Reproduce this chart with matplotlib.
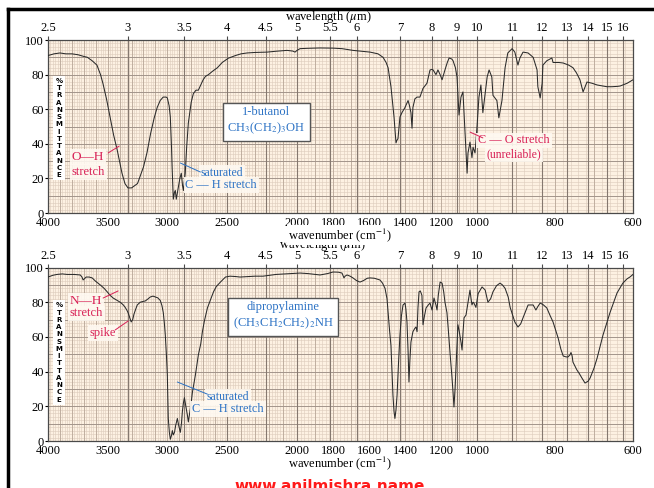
import numpy as np
import matplotlib.pyplot as plt

plt.rcParams['font.family'] = ['Liberation Serif', 'DejaVu Serif']
plt.rcParams['mathtext.fontset'] = 'stix'

# 1-butanol spectrum: wavenumber (cm-1), %T
but_wn = [4000, 3950, 3900, 3850, 3800, 3750, 3700, 3670, 3630, 3590, 3560, 3540, 3510, 3480, 3450,
          3420, 3380, 3355, 3330, 3300, 3250, 3200, 3170, 3140, 3110, 3085, 3060, 3035, 3010, 3000,
          2985, 2975, 2965, 2960, 2950, 2940, 2933, 2925, 2915, 2908, 2895, 2883, 2873, 2865, 2858,
          2850, 2838, 2824, 2800, 2782, 2760, 2740, 2720, 2700, 2680, 2655, 2620, 2580, 2540, 2490,
          2440, 2400, 2357, 2300, 2214, 2150, 2071, 2030, 2014, 2000, 1983, 1940, 1872, 1800, 1750,
          1689, 1640, 1594, 1550, 1522, 1505, 1494, 1478, 1461, 1450, 1445, 1439, 1433, 1428, 1417,
          1400, 1383, 1375, 1367, 1361, 1356, 1345, 1333, 1317, 1300, 1278, 1261, 1250, 1244, 1228,
          1217, 1205, 1194, 1178, 1165, 1155, 1140, 1133, 1120, 1111, 1100, 1089, 1078, 1072, 1061,
          1055, 1050, 1039, 1028, 1022, 1011, 1000, 995, 990, 985, 982, 974, 969, 962, 959,
          949, 944, 936, 928, 921, 910, 903, 895, 890, 882, 869, 856, 846, 844, 838,
          833, 831, 821, 808, 805, 790, 779, 765, 754, 745, 736, 728, 718, 705, 692,
          680, 667, 654, 640, 633, 615, 600]
but_t = [91, 92, 92.5, 92, 92, 91.5, 90.5, 90, 88, 85.5, 80, 75, 66, 55.5, 45,
         36.4, 23, 17, 14.5, 14.5, 17, 26.6, 35, 46, 55, 61, 65, 67, 67, 66.5,
         62, 55.5, 38, 26.6, 8, 12, 13, 8, 12, 15, 20, 23, 16, 13, 18,
         23, 38, 52, 64, 69, 71, 71, 74, 77, 79, 80, 82, 84, 87, 89.5,
         91, 92, 92.5, 92.8, 93, 93.5, 94, 93.6, 93, 94, 95, 95.2, 95.4, 95.3, 95,
         94, 93.5, 93, 92, 90, 87, 84, 73, 55.5, 40.5, 42, 43, 50, 55.5, 58,
         61, 65, 62, 58, 49, 61, 66, 67, 67, 72, 75, 82.7, 83, 82.7, 80,
         82.7, 80, 77, 82.7, 87, 89.6, 89, 88, 84, 78.6, 56.6, 67, 70, 58, 36.4,
         23, 34.7, 41, 32, 38, 34.7, 49.7, 67, 74, 58, 63.6, 78.6, 82.7, 78.6, 68,
         65, 55, 65, 84, 92.5, 95, 93, 85.5, 89.6, 93, 92.5, 90, 82.7, 73, 66.5,
         75, 85.5, 88, 89.6, 87, 87, 86.7, 85.5, 84, 81, 77, 70, 75.7, 75, 74,
         73.5, 73, 73, 73.2, 73.4, 75, 77]

# dipropylamine spectrum: wavenumber (cm-1), %T
dpa_wn = [4000, 3960, 3925, 3880, 3840, 3780, 3730, 3715, 3706, 3695, 3680, 3655, 3630, 3600, 3563,
          3530, 3504, 3480, 3454, 3420, 3395, 3370, 3353, 3340, 3328, 3315, 3303, 3290, 3280, 3265,
          3252, 3227, 3200, 3185, 3160, 3143, 3120, 3100, 3080, 3059, 3045, 3034, 3025, 3017, 3008,
          3000, 2992, 2983, 2975, 2966, 2958, 2950, 2940, 2930, 2916, 2905, 2891, 2882, 2874, 2865,
          2857, 2845, 2832, 2824, 2815, 2800, 2790, 2765, 2740, 2720, 2706, 2690, 2664, 2640, 2613,
          2590, 2555, 2513, 2479, 2440, 2407, 2350, 2300, 2243, 2150, 2050, 1983, 1940, 1900, 1872,
          1830, 1800, 1770, 1750, 1745, 1739, 1733, 1722, 1705, 1689, 1670, 1650, 1630, 1610, 1594,
          1570, 1539, 1525, 1511, 1500, 1494, 1486, 1478, 1472, 1467, 1461, 1456, 1450, 1444, 1436,
          1428, 1420, 1411, 1400, 1395, 1389, 1383, 1378, 1373, 1367, 1356, 1345, 1339, 1333, 1328,
          1322, 1315, 1306, 1300, 1292, 1283, 1270, 1261, 1250, 1239, 1228, 1222, 1215, 1205, 1194,
          1185, 1178, 1167, 1160, 1150, 1140, 1133, 1128, 1122, 1117, 1111, 1106, 1100, 1089, 1083,
          1078, 1072, 1061, 1050, 1039, 1033, 1028, 1022, 1017, 1010, 1006, 1000, 997, 987, 979,
          972, 965, 959, 950, 941, 935, 928, 920, 915, 903, 895, 888, 882, 869, 856,
          849, 844, 838, 830, 821, 812, 805, 792, 785, 779, 772, 767, 762, 759, 756,
          754, 744, 738, 731, 723, 715, 710, 700, 692, 677, 659, 641, 626, 615, 608, 600]
dpa_t = [94.5, 95.5, 96, 96.3, 96, 96, 95.7, 94.5, 92.8, 93.5, 94.5, 94.5, 94, 92, 90,
         88, 86, 84, 82.4, 81, 80, 78.5, 77, 75.5, 73.8, 71, 68.6, 70, 73, 76,
         78.4, 80, 80.5, 80.7, 82, 83, 83.5, 83, 82.5, 81, 78, 74, 68, 61, 50,
         38, 13, 5, 1, 3, 6, 3.5, 5, 9, 13, 9, 5, 10, 17, 22,
         25, 20, 15, 11, 15, 22, 28, 38, 49.6, 56, 63, 69, 76.7, 81, 86,
         89, 91.6, 94.5, 95, 94.8, 94.5, 94.8, 95, 95, 96, 96.5, 96.8, 96.5, 96, 95.7,
         96.5, 97.4, 97.3, 96.8, 95.5, 94, 95, 95.7, 95, 94, 92.5, 91.6, 92.5, 93.8, 94,
         93.8, 92.8, 91, 88, 82, 74, 64, 55, 40, 26.5, 17, 13, 18, 26.5, 45,
         61, 72, 78.4, 79.5, 76, 68.6, 52, 34, 46, 57, 63, 65, 65.7, 63, 76.7,
         86, 86.5, 84, 67, 72, 76.7, 78.5, 79.5, 75.5, 82.4, 78.4, 75.5, 84, 91.6, 91,
         86, 80, 74, 65, 51, 38, 28, 19.6, 30, 42, 56, 67, 64, 57, 52.4,
         62, 71, 72.6, 80, 87, 82, 78.4, 80, 79.5, 78, 77, 81, 85, 88.8, 87,
         80, 82, 86, 89.5, 91, 90, 88, 83, 77, 68.6, 65.7, 67.5, 71, 78.4, 78.4,
         75.5, 77.5, 79.5, 78.5, 76.7, 72, 68.6, 59.4, 53, 49, 48.5, 48.4, 49.5, 51, 49,
         45.5, 41, 39, 36.3, 33.4, 34.5, 36.3, 42, 47.8, 61, 74, 85.3, 91, 93.5, 94.5, 96]

wn_ticks = [4000, 3500, 3000, 2500, 2000, 1800, 1600, 1400, 1200, 1000, 800, 600]
mu_ticks = [2.5, 3, 3.5, 4, 4.5, 5, 5.5, 6, 7, 8, 9, 10, 11, 12, 13, 14, 15, 16]
mu_labels = ['2.5', '3', '3.5', '4', '4.5', '5', '5.5', '6', '7', '8', '9', '10',
             '11', '12', '13', '14', '15', '16']
t_ticks = [0, 20, 40, 60, 80, 100]

# chart paper: wavenumber axis is compressed differently in each range
brk_wn = [600, 1000, 2000, 2500, 4000]
brk_pos = [633, 477, 297, 227, 48]


def fwd(w):
    return np.interp(w, brk_wn, brk_pos)


def inv(p):
    return np.interp(p, brk_pos[::-1], brk_wn[::-1])


RED = '#d81f55'
BLUE = '#2c72c4'
PAPER = '#fdf1e2'
W, H = 654, 488
FS = 8.5

fig = plt.figure(figsize=(W / 100, H / 100), dpi=100)


def setup(ax, lab_y):
    ax.set_facecolor(PAPER)
    ax.set_xscale('function', functions=(fwd, inv))
    fine = np.arange(600, 4001, 20)
    ax.vlines(fine, 0, 100, colors='#dccbbb', lw=0.4, zorder=0.5)
    ax.vlines(np.arange(600, 4001, 100), 0, 100, colors='#b9a899', lw=0.6, zorder=0.6)
    ax.vlines(10000 / np.array(mu_ticks), 0, 100, colors='#85786f', lw=0.8, zorder=0.7)
    ax.hlines(np.arange(0, 101, 2), 4000, 600, colors='#dccbbb', lw=0.4, zorder=0.5)
    ax.hlines(np.arange(0, 101, 10), 4000, 600, colors='#a3958b', lw=0.7, zorder=0.6)
    ax.set_xlim(600, 4000)
    ax.set_ylim(0, 100)
    ax.set_xticks(wn_ticks)
    ax.set_xticklabels([str(t) for t in wn_ticks])
    ax.set_yticks(t_ticks)
    ax.tick_params(axis='x', length=0, pad=3, labelsize=FS + 0.5)
    ax.tick_params(axis='y', length=2, pad=1, labelsize=FS + 0.5)
    ax.minorticks_off()
    for s in ax.spines.values():
        s.set_color('#4a4a4a')
        s.set_linewidth(0.9)
    top = ax.twiny()
    top.set_xscale('function', functions=(fwd, inv))
    top.set_xlim(600, 4000)
    top.set_xticks([10000 / m for m in mu_ticks])
    top.set_xticklabels(mu_labels)
    top.minorticks_off()
    top.tick_params(axis='x', length=3, pad=1, labelsize=FS + 0.5, color='#4a4a4a')
    for s in top.spines.values():
        s.set_visible(False)
    # %TRANSMITTANCE stacked label
    ax.text(0.019, lab_y, '%\nT\nR\nA\nN\nS\nM\nI\nT\nT\nA\nN\nC\nE', transform=ax.transAxes,
            ha='center', va='center', fontsize=5.0, fontweight='bold', family='DejaVu Sans',
            linespacing=1.25, zorder=5,
            bbox=dict(boxstyle='square,pad=0.3', fc='white', ec='none'))


def note(ax, txt, xy, color, size=FS):
    ax.text(xy[0], xy[1], txt, ha='center', va='center', color=color, fontsize=size,
            linespacing=1.1, zorder=5,
            bbox=dict(boxstyle='square,pad=0.15', fc='#fff9f1', ec='none', alpha=0.9))


def leader(ax, p0, p1, color):
    ax.annotate('', xy=p1, xytext=p0,
                arrowprops=dict(arrowstyle='-', color=color, lw=0.7, shrinkA=0, shrinkB=0),
                zorder=5)


ax1 = fig.add_axes([48 / W, 1 - 213 / H, 585 / W, 173 / H])
setup(ax1, 0.491)
ax1.plot(but_wn, but_t, color='#2a2a2a', lw=0.75, zorder=3)

ax2 = fig.add_axes([48 / W, 1 - 441 / H, 585 / W, 173.5 / H])
setup(ax2, 0.51)
ax2.plot(dpa_wn, dpa_t, color='#2a2a2a', lw=0.75, zorder=3)

# annotations, 1-butanol
note(ax1, 'O—H', (3664, 32.4), RED, 9.5)
note(ax1, 'stretch', (3664, 23.7), RED, FS + 0.5)
leader(ax1, (3496, 34.7), (3403, 38.7), RED)
ax1.text(2221, 53.2, '1-butanol\nCH$_3$(CH$_2$)$_3$OH', ha='center', va='center', color=BLUE,
         fontsize=9, linespacing=1.3, zorder=5,
         bbox=dict(boxstyle='square,pad=0.35', fc='white', ec='#555555', lw=1.0))
note(ax1, 'saturated', (2540, 23.4), BLUE, FS)
note(ax1, 'C — H stretch', (2548, 16.2), BLUE, FS + 0.3)
leader(ax1, (2891, 28.9), (2723, 23.7), BLUE)
note(ax1, 'C — O stretch', (905, 42), RED, FS + 0.3)
note(ax1, '(unreliable)', (905, 34), RED, FS)
leader(ax1, (1039, 46.8), (985, 43.4), RED)

# annotations, dipropylamine
note(ax2, 'N—H', (3681, 80.7), RED, 9.5)
note(ax2, 'stretch', (3681, 73.5), RED, FS + 0.5)
leader(ax2, (3538, 82.4), (3412, 86.5), RED)
note(ax2, 'spike', (3538, 62.2), RED, FS + 0.5)
leader(ax2, (3437, 64), (3328, 69.2), RED)
ax2.text(2100, 72, 'dipropylamine\n(CH$_3$CH$_2$CH$_2$)$_2$NH', ha='center', va='center',
         color=BLUE, fontsize=9, linespacing=1.3, zorder=5,
         bbox=dict(boxstyle='square,pad=0.35', fc='white', ec='#555555', lw=1.0))
note(ax2, 'saturated', (2493, 25.3), BLUE, FS)
note(ax2, 'C — H stretch', (2493, 18.6), BLUE, FS + 0.3)
leader(ax2, (2916, 34), (2664, 27), BLUE)

# axis titles
fig.text(328 / W, 1 - 17 / H, r'wavelength ($\mu$m)', ha='center', va='center', fontsize=FS + 0.5)
fig.text(322 / W, 1 - 245 / H, r'wavelength ($\mu$m)', ha='center', va='center', fontsize=FS + 0.5)
fig.text(340 / W, 1 - 235 / H, r'wavenumber (cm$^{-1}$)', ha='center', va='center',
         fontsize=FS + 0.5, bbox=dict(boxstyle='square,pad=0.1', fc='white', ec='none'), zorder=10)
fig.text(340 / W, 1 - 463 / H, r'wavenumber (cm$^{-1}$)', ha='center', va='center', fontsize=FS + 0.5)

# page frame and watermark
fig.add_artist(plt.Line2D([8 / W, 1], [1 - 9 / H, 1 - 9 / H], color='black', lw=2.5))
fig.add_artist(plt.Line2D([8 / W, 8 / W], [0, 1 - 9 / H], color='black', lw=2.5))
fig.text(330 / W, 1 - 479 / H, 'www.anilmishra.name', ha='center', va='top', color='#ff1a1a',
         fontsize=11, fontweight='bold', family='DejaVu Sans')

fig.savefig('out.png', dpi=100, facecolor='white')
